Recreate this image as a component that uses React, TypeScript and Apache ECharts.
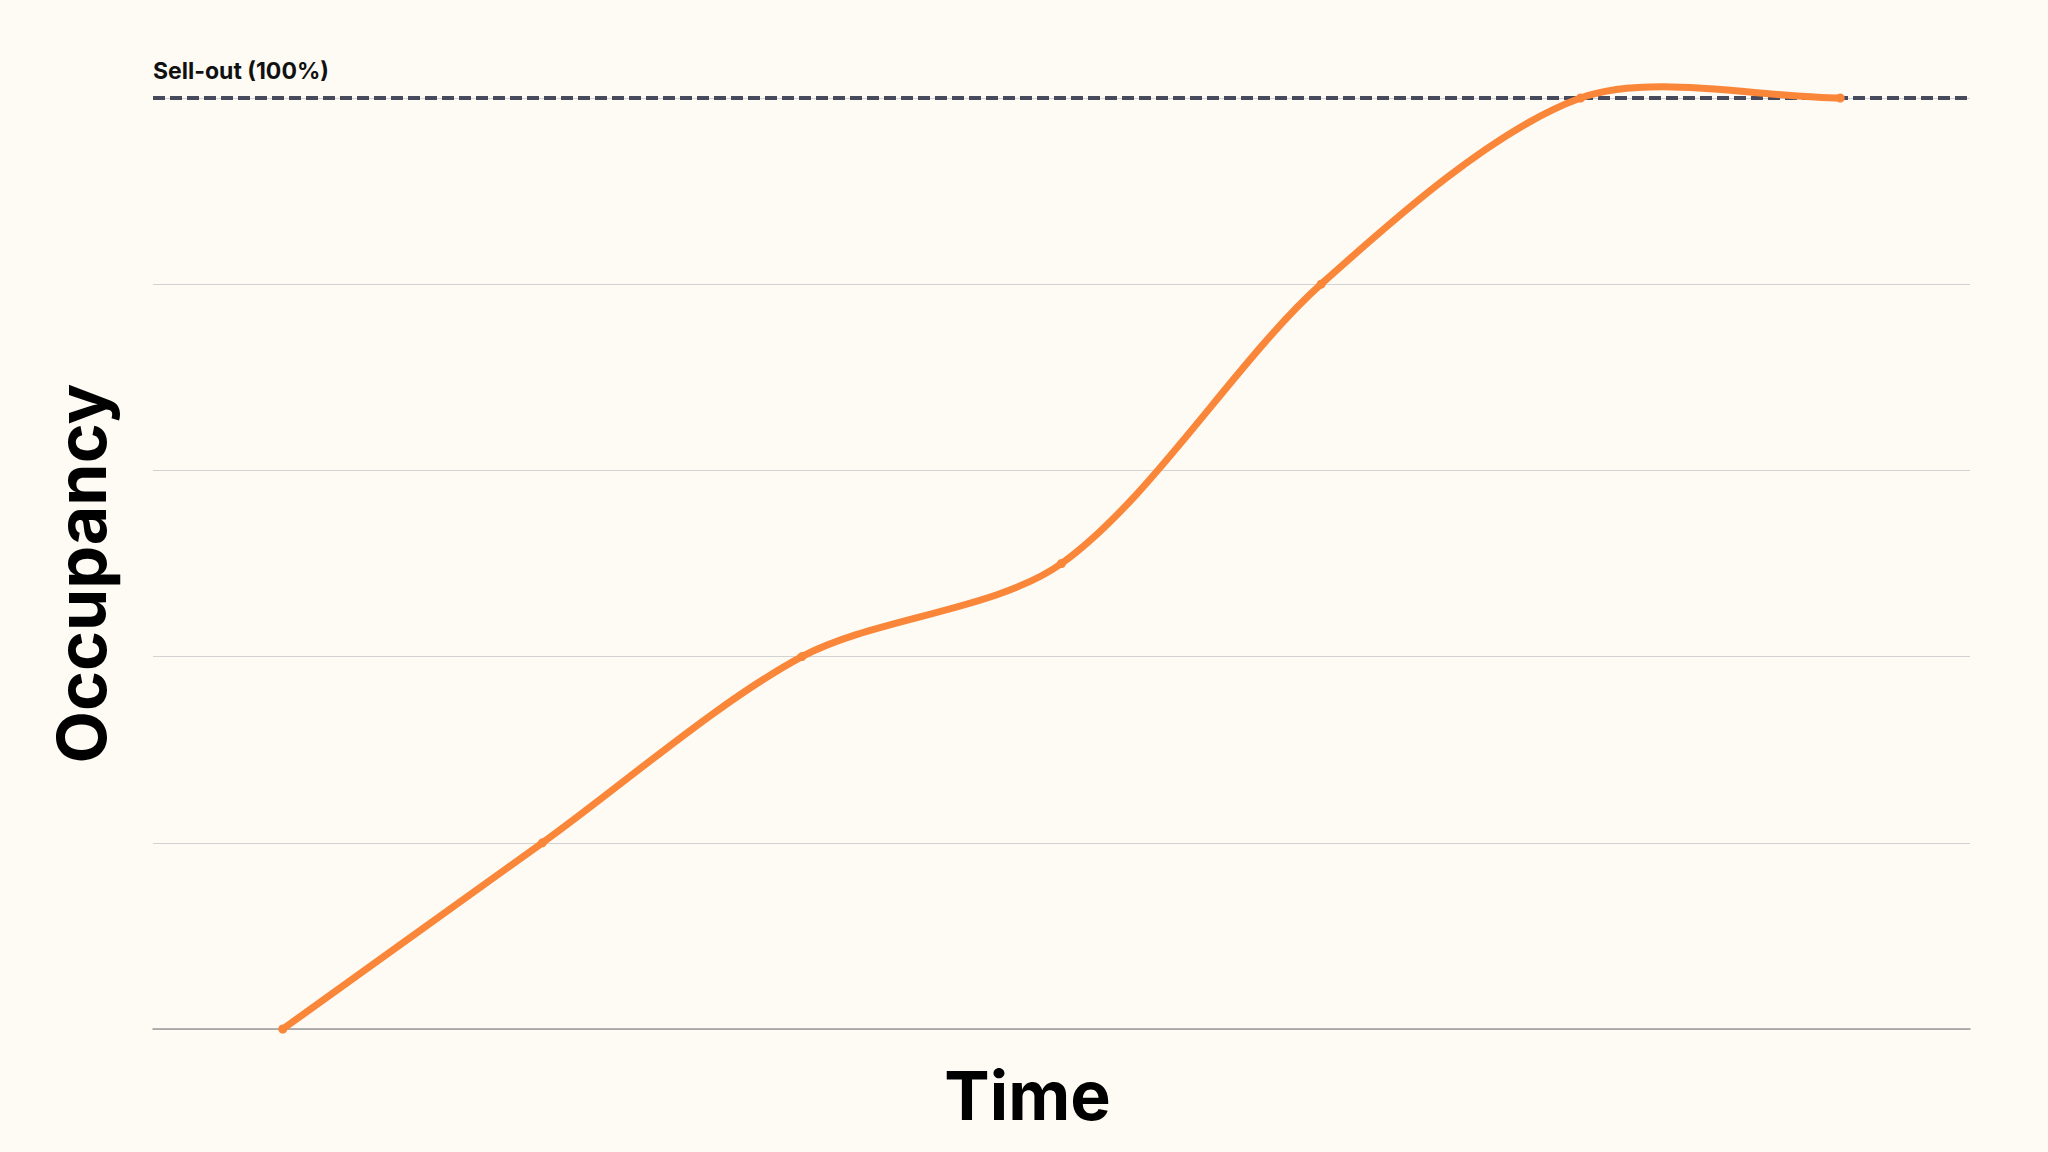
import { useEffect, useRef } from 'react';
import * as echarts from 'echarts';

// stages along the time axis (unlabelled in the picture)
const stages = ['t1', 't2', 't3', 't4', 't5', 't6', 't7'];
// occupancy in percent of capacity
const occupancy = [0, 20, 40, 50, 80, 100, 100];
const sellOut = 100;
const yTicks = { min: 0, max: 100, interval: 20 };

const ORANGE = '#FA863A';
const BG = '#FEFBF4';
const TENSION = 0.3;

type Pt = [number, number];

// cardinal spline control points (same idea as chart.js "tension")
function curvePath(pts: Pt[], t: number) {
  const ctrl = pts.map((cur, i) => {
    const prev = pts[i - 1] || cur;
    const next = pts[i + 1] || cur;
    const d01 = Math.hypot(cur[0] - prev[0], cur[1] - prev[1]);
    const d12 = Math.hypot(next[0] - cur[0], next[1] - cur[1]);
    const sum = d01 + d12 || 1;
    const fa = (t * d01) / sum;
    const fb = (t * d12) / sum;
    const dx = next[0] - prev[0];
    const dy = next[1] - prev[1];
    return {
      before: [cur[0] - fa * dx, cur[1] - fa * dy] as Pt,
      after: [cur[0] + fb * dx, cur[1] + fb * dy] as Pt,
    };
  });
  let d = `M${pts[0][0]},${pts[0][1]}`;
  for (let i = 1; i < pts.length; i++) {
    const a = ctrl[i - 1].after;
    const b = ctrl[i].before;
    d += ` C${a[0]},${a[1]} ${b[0]},${b[1]} ${pts[i][0]},${pts[i][1]}`;
  }
  return d;
}

export default function App() {
  const ref = useRef<HTMLDivElement | null>(null);

  useEffect(() => {
    if (!ref.current) return;
    const chart = echarts.init(ref.current, undefined, { renderer: 'svg' });

    const nameFont = {
      color: '#000',
      fontSize: 68,
      fontWeight: 700,
      fontFamily: 'Inter',
    };

    chart.setOption({
      animation: false,
      backgroundColor: BG,
      grid: { left: 153, right: 78, top: 98, bottom: 123 },
      xAxis: {
        type: 'category',
        data: stages,
        boundaryGap: true,
        axisLine: { lineStyle: { color: '#9a9a9a', width: 1.5 } },
        axisTick: { show: false },
        axisLabel: { show: false },
        name: 'Time',
        nameLocation: 'middle',
        nameGap: 32,
        nameTextStyle: { ...nameFont, padding: [0, 68, 0, 0] },
      },
      yAxis: {
        type: 'value',
        ...yTicks,
        axisLine: { show: false },
        axisTick: { show: false },
        axisLabel: { show: false },
        splitLine: { lineStyle: { color: '#d2d2d2', width: 1 } },
        name: 'Occupancy',
        nameLocation: 'middle',
        nameRotate: 90,
        nameGap: 38,
        nameTextStyle: { ...nameFont, padding: [0, 20, 0, 0] },
      },
      series: [
        {
          type: 'custom',
          clip: false,
          z: 3,
          data: occupancy.map((v, i) => [i, v]),
          encode: { x: 0, y: 1 },
          renderItem: (params: any, api: any) => {
            const i = params.dataIndex;
            const p = api.coord([api.value(0), api.value(1)]);
            const children: any[] = [];
            if (i === 0) {
              const pts: Pt[] = occupancy.map((v, k) => api.coord([k, v]));
              children.push({
                type: 'path',
                shape: { pathData: curvePath(pts, TENSION) },
                style: {
                  fill: 'none',
                  stroke: ORANGE,
                  lineWidth: 7,
                  lineCap: 'round',
                  lineJoin: 'round',
                },
              });
            }
            children.push({
              type: 'circle',
              shape: { cx: p[0], cy: p[1], r: 4.5 },
              style: { fill: ORANGE },
            });
            return { type: 'group', children };
          },
        },
        {
          // carries the sell-out reference line
          type: 'line',
          data: [],
          markLine: {
            silent: true,
            symbol: 'none',
            z: 2,
            data: [{ yAxis: sellOut }],
            lineStyle: {
              color: '#464a5a',
              width: 4,
              type: [12, 5],
            },
            label: {
              show: true,
              position: 'insideStartTop',
              distance: [0, 16],
              formatter: 'Sell-out (100%)',
              color: '#111',
              fontSize: 23,
              fontWeight: 700,
              fontFamily: 'Inter',
            },
          },
        },
      ],
    });

    return () => chart.dispose();
  }, []);

  return (
    <div
      ref={ref}
      style={{ position: 'fixed', left: 0, top: 0, width: '100vw', height: '100vh', background: BG }}
    />
  );
}
